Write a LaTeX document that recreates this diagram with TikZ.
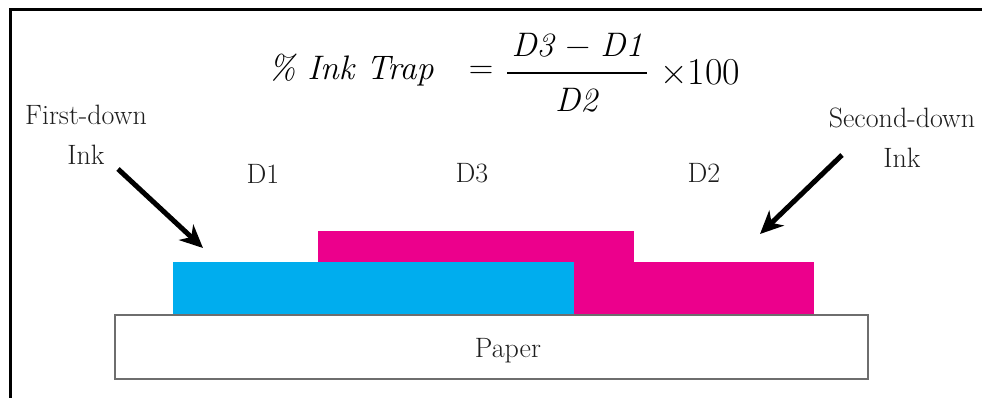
\documentclass[tikz,border=0pt]{standalone}
\usepackage{fontspec}
\usetikzlibrary{arrows.meta}
\definecolor{inkcyan}{HTML}{00ADEE}
\definecolor{inkmag}{HTML}{EC008C}
\definecolor{paperedge}{HTML}{6E6E6E}
\definecolor{lbltext}{HTML}{1E1E1E}
\tikzset{
  lbl/.style={inner sep=0pt, anchor=base, text=lbltext, font=\fontsize{28}{32}\selectfont},
  eqpart/.style={inner sep=0pt, font=\fontsize{34}{40}\selectfont},
  bigarrow/.style={line width=5pt, -{Stealth[length=23pt,width=21pt,inset=7pt]}},
}
\begin{document}
\begin{tikzpicture}[x=1pt,y=-1pt]
\useasboundingbox (0,0) rectangle (982,398);
\clip (0,0) rectangle (982,398);
% frame
\draw[line width=3pt] (10,405) -- (10,10) -- (995,10);
% formula
\node[eqpart] (ink) at (351,70) {\textit{\% Ink Trap}};
\node[eqpart] (eq) at (481,72) {=};
\node[eqpart] (num) at (577,45) {\textit{D3} − \textit{D1}};
\node[eqpart] (den) at (577,100) {\textit{D2}};
\node[eqpart, anchor=west, font=\fontsize{38}{44}\selectfont] (times) at (660,72) {×100};
\draw[line width=1.6pt] ([xshift=-4pt,yshift=-1pt]num.south west |- eq.center) -- ([xshift=4pt,yshift=-1pt]num.south east |- eq.center);
% labels
\node[lbl] (first) at (86,125) {First-down};
\node[lbl] (firstink) at (86,165) {Ink};
\node[lbl] (second) at (902,128) {Second-down};
\node[lbl] (secondink) at (902,168) {Ink};
\node[lbl] (d1) at (263,184) {D1};
\node[lbl] (d3) at (472,183) {D3};
\node[lbl] (d2) at (704,183) {D2};
% ink layers
\fill[inkmag] (318,231) rectangle (634,263);
\fill[inkmag] (378,262) rectangle (814,315);
\fill[inkcyan] (173,262) rectangle (574,314);
% paper
\node[draw=paperedge, line width=1.5pt, fill=white, minimum width=753pt, minimum height=64pt, inner sep=0pt] (paper) at (491.5,347) {};
\node[lbl] (papertext) at (508,357) {Paper};
% arrows
\coordinate (a1s) at (118,169);
\coordinate (a1e) at (203,248);
\coordinate (a2s) at (842,155);
\coordinate (a2e) at (760,234);
\draw[bigarrow] (a1s) -- (a1e);
\draw[bigarrow] (a2s) -- (a2e);
\end{tikzpicture}
\end{document}
